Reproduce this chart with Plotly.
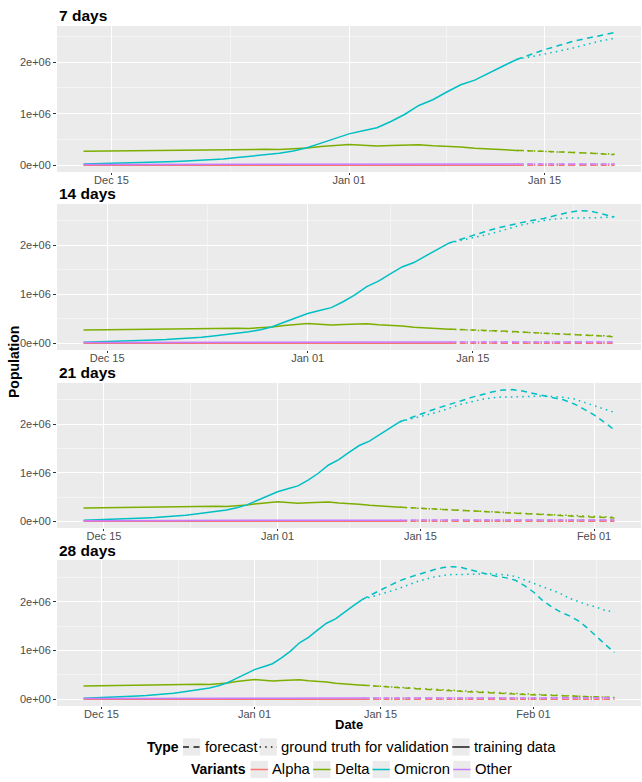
import pandas as pd
import plotly.graph_objects as go

# ---- data (values in millions of people) ----
train_start = "2021-12-13"
train_end = "2022-01-13"
horizons = [7, 14, 21, 28]
panel_titles = ["7 days", "14 days", "21 days", "28 days"]
variants = ["Alpha", "Delta", "Omicron", "Other"]
variant_colors = ["#F8766D", "#7CAE00", "#00BFC4", "#C77CFF"]

# training data, Dec 13 .. Jan 13
train_alpha = [0.004, 0.004, 0.004, 0.004, 0.004, 0.003, 0.003, 0.003, 0.003, 0.003,
               0.003, 0.003, 0.003, 0.003, 0.003, 0.003, 0.003, 0.003, 0.003, 0.002,
               0.002, 0.002, 0.002, 0.002, 0.002, 0.002, 0.002, 0.002, 0.002, 0.002,
               0.002, 0.002]
train_delta = [0.275, 0.278, 0.282, 0.287, 0.292, 0.298, 0.300, 0.300, 0.302, 0.305,
               0.310, 0.315, 0.318, 0.310, 0.305, 0.315, 0.335, 0.365, 0.390, 0.405,
               0.390, 0.375, 0.385, 0.395, 0.400, 0.380, 0.370, 0.355, 0.330, 0.315,
               0.300, 0.290]
train_omicron = [0.025, 0.030, 0.038, 0.045, 0.052, 0.060, 0.068, 0.078, 0.090, 0.105,
                 0.125, 0.150, 0.175, 0.205, 0.235, 0.280, 0.340, 0.430, 0.520, 0.610,
                 0.670, 0.730, 0.850, 0.990, 1.160, 1.270, 1.420, 1.560, 1.650, 1.790,
                 1.920, 2.050]
train_other = [0.016, 0.016, 0.017, 0.017, 0.017, 0.018, 0.018, 0.018, 0.019, 0.019,
               0.019, 0.020, 0.020, 0.020, 0.021, 0.021, 0.021, 0.022, 0.022, 0.022,
               0.023, 0.023, 0.023, 0.024, 0.024, 0.024, 0.025, 0.025, 0.025, 0.025,
               0.026, 0.026]

# ground truth for validation, Jan 13 .. Feb 10
truth_alpha = [0.002, 0.002, 0.002, 0.002, 0.002, 0.002, 0.002, 0.002, 0.002, 0.002,
               0.002, 0.002, 0.002, 0.002, 0.002, 0.002, 0.002, 0.002, 0.002, 0.002,
               0.002, 0.002, 0.002, 0.002, 0.002, 0.002, 0.002, 0.002, 0.002]
truth_delta = [0.290, 0.281, 0.270, 0.259, 0.250, 0.240, 0.229, 0.218, 0.207, 0.197,
               0.186, 0.176, 0.166, 0.156, 0.146, 0.137, 0.128, 0.120, 0.111, 0.103,
               0.095, 0.087, 0.079, 0.072, 0.064, 0.057, 0.049, 0.042, 0.036]
truth_omicron = [2.05, 2.10, 2.15, 2.21, 2.27, 2.34, 2.41, 2.46, 2.51, 2.54,
                 2.56, 2.56, 2.56, 2.57, 2.58, 2.57, 2.55, 2.52, 2.45, 2.37,
                 2.30, 2.24, 2.17, 2.07, 2.00, 1.94, 1.89, 1.82, 1.79]
truth_other = [0.026, 0.026, 0.027, 0.027, 0.027, 0.028, 0.028, 0.028, 0.028, 0.029,
               0.029, 0.029, 0.029, 0.030, 0.030, 0.030, 0.030, 0.030, 0.031, 0.031,
               0.031, 0.031, 0.031, 0.031, 0.032, 0.032, 0.032, 0.032, 0.032]

# forecasts, Jan 13 .. Jan 13 + horizon
fc_alpha = [0.002, 0.003, 0.003, 0.003, 0.003, 0.003, 0.003, 0.003, 0.003, 0.003,
            0.003, 0.003, 0.003, 0.003, 0.003, 0.003, 0.003, 0.003, 0.003, 0.003,
            0.003, 0.003, 0.003, 0.003, 0.003, 0.003, 0.003, 0.003, 0.003]
fc_other = [0.026, 0.027, 0.027, 0.028, 0.028, 0.028, 0.029, 0.029, 0.029, 0.029,
            0.030, 0.030, 0.030, 0.030, 0.030, 0.030, 0.031, 0.031, 0.031, 0.031,
            0.031, 0.031, 0.031, 0.031, 0.031, 0.031, 0.031, 0.031, 0.031]
fc_delta_7 = [0.290, 0.283, 0.272, 0.262, 0.251, 0.238, 0.224, 0.208]
fc_delta_14 = [0.290, 0.284, 0.276, 0.266, 0.256, 0.245, 0.234, 0.222, 0.210, 0.198,
               0.186, 0.172, 0.160, 0.147, 0.135]
fc_delta_21 = [0.290, 0.282, 0.272, 0.262, 0.250, 0.238, 0.226, 0.214, 0.202, 0.190,
               0.178, 0.167, 0.156, 0.145, 0.135, 0.125, 0.115, 0.106, 0.097, 0.088,
               0.079, 0.070]
fc_delta_28 = [0.290, 0.280, 0.268, 0.256, 0.243, 0.230, 0.217, 0.205, 0.193, 0.182,
               0.171, 0.160, 0.150, 0.141, 0.132, 0.124, 0.116, 0.108, 0.100, 0.093,
               0.086, 0.079, 0.072, 0.066, 0.060, 0.054, 0.048, 0.043, 0.038]
fc_omicron_7 = [2.05, 2.15, 2.24, 2.32, 2.40, 2.46, 2.52, 2.57]
fc_omicron_14 = [2.05, 2.13, 2.20, 2.28, 2.35, 2.41, 2.46, 2.51, 2.55, 2.61,
                 2.67, 2.71, 2.70, 2.64, 2.58]
fc_omicron_21 = [2.05, 2.13, 2.21, 2.28, 2.35, 2.41, 2.48, 2.55, 2.61, 2.66,
                 2.70, 2.71, 2.68, 2.63, 2.58, 2.54, 2.50, 2.42, 2.31, 2.19,
                 2.04, 1.88]
fc_omicron_28 = [2.05, 2.15, 2.24, 2.33, 2.42, 2.49, 2.55, 2.61, 2.66, 2.70,
                 2.72, 2.70, 2.65, 2.60, 2.56, 2.52, 2.49, 2.44, 2.33, 2.20,
                 2.03, 1.90, 1.79, 1.71, 1.61, 1.46, 1.28, 1.12, 0.96]

x_tick_vals = ["2021-12-15", "2022-01-01", "2022-01-15", "2022-02-01"]
x_tick_text = ["Dec 15", "Jan 01", "Jan 15", "Feb 01"]
x_minor_vals = ["2021-12-23 12:00", "2022-01-08", "2022-01-23 12:00", "2022-02-08"]
y_tick_vals = [0, 1e6, 2e6]
y_tick_text = ["0e+00", "1e+06", "2e+06"]
y_minor_vals = [0.5e6, 1.5e6, 2.5e6]

type_keys = ["forecast", "truth", "train"]
type_labels = ["forecast", "ground truth for validation", "training data"]

# ---- styling ----
FONT = "Liberation Sans, Arial, Helvetica, sans-serif"
DASH = {"forecast": "6px,4.5px", "truth": "1.5px,4.2px", "train": "solid"}
LW = 1.5
W, H = 642, 782
ML, MR, MT, MB = 57, 1, 26, 76
PLOT_W = W - ML - MR
PLOT_H = H - MT - MB
# panel bands in pixels from the top of the page
panel_px = [(26, 172), (204, 350), (383, 528), (560, 706)]
title_px = [15, 193, 372, 550]


def py(px):
    """pixel row -> paper y"""
    return (H - MB - px) / PLOT_H


def pxx(px):
    """pixel column -> paper x"""
    return (px - ML) / PLOT_W


train_dates = pd.date_range(train_start, train_end)
train = dict(zip(variants, [train_alpha, train_delta, train_omicron, train_other]))
truth = dict(zip(variants, [truth_alpha, truth_delta, truth_omicron, truth_other]))
fc_delta = [fc_delta_7, fc_delta_14, fc_delta_21, fc_delta_28]
fc_omicron = [fc_omicron_7, fc_omicron_14, fc_omicron_21, fc_omicron_28]

fig = go.Figure()
annotations = []
shapes = []

for i, h in enumerate(horizons):
    ax = "" if i == 0 else str(i + 1)
    xa, ya = "x" + ax, "y" + ax
    fut_dates = pd.date_range(train_end, periods=h + 1)
    forecast = {
        "Alpha": fc_alpha[: h + 1],
        "Delta": fc_delta[i],
        "Omicron": fc_omicron[i],
        "Other": fc_other[: h + 1],
    }
    ymax = 0.0
    for v, col in zip(variants, variant_colors):
        tr = [t * 1e6 for t in train[v]]
        gt = [t * 1e6 for t in truth[v][: h + 1]]
        fc = [t * 1e6 for t in forecast[v]]
        ymax = max(ymax, max(tr), max(gt), max(fc))
        for xs, ys, d in ((train_dates, tr, "train"), (fut_dates, gt, "truth"),
                          (fut_dates, fc, "forecast")):
            fig.add_trace(go.Scatter(
                x=xs, y=ys, mode="lines", xaxis=xa, yaxis=ya, showlegend=False,
                line=dict(color=col, width=LW, dash=DASH[d]), hoverinfo="skip"))

    # ggplot-style 5% expansion of both scales
    x0, x1 = pd.Timestamp(train_start), fut_dates[-1]
    pad = (x1 - x0) * 0.05
    ypad = ymax * 0.05
    top, bot = panel_px[i]
    axis_common = dict(
        showline=False, ticks="outside", tickwidth=1, tickcolor="#333333",
        tickfont=dict(family=FONT, size=11, color="#4D4D4D"),
        gridcolor="#FFFFFF", gridwidth=1, zeroline=False,
    )
    fig.layout["xaxis" + ax] = dict(
        axis_common, anchor=ya, domain=[0, 1], type="date",
        range=[x0 - pad, x1 + pad], ticklen=2, ticklabelstandoff=-4,
        tickmode="array", tickvals=x_tick_vals, ticktext=x_tick_text,
        minor=dict(tickvals=x_minor_vals, showgrid=True, gridcolor="#F4F4F4",
                   gridwidth=0.6, ticks=""),
    )
    fig.layout["yaxis" + ax] = dict(
        axis_common, anchor=xa, domain=[py(bot), py(top)],
        range=[-ypad, ymax + ypad], ticklen=3,
        tickmode="array", tickvals=y_tick_vals, ticktext=y_tick_text,
        minor=dict(tickvals=y_minor_vals, showgrid=True, gridcolor="#F4F4F4",
                   gridwidth=0.6, ticks=""),
    )
    annotations.append(dict(
        text="<b>%s</b>" % panel_titles[i], xref="paper", yref="paper",
        x=0, y=py(title_px[i]), xanchor="left", yanchor="middle", showarrow=False,
        font=dict(family=FONT, size=15.5, color="#000000")))

annotations.append(dict(
    text="<b>Population</b>", xref="paper", yref="paper", x=pxx(14),
    y=py(362), textangle=-90, showarrow=False, xanchor="center", yanchor="middle",
    font=dict(family=FONT, size=14, color="#000000")))
annotations.append(dict(
    text="<b>Date</b>", xref="paper", yref="paper", x=0.5, y=py(725),
    showarrow=False, xanchor="center", yanchor="middle",
    font=dict(family=FONT, size=13, color="#000000")))

# ---- legends (ggplot-style keys: grey square with a line across it) ----
KEY = 17.3
LEG_FONT = dict(family=FONT, size=14.8, color="#000000")
LEG_TITLE_FONT = dict(family=FONT, size=14, color="#000000")


def legend_row(y_px, title, title_right, entries):
    """entries: (key_left_px, label, colour, dash)"""
    annotations.append(dict(
        text="<b>%s</b>" % title, xref="paper", yref="paper", x=pxx(title_right),
        y=py(y_px), xanchor="right", yanchor="middle", showarrow=False,
        borderpad=0, font=LEG_TITLE_FONT))
    for left, label, col, dash in entries:
        shapes.append(dict(
            type="rect", xref="paper", yref="paper", layer="above",
            x0=pxx(left), x1=pxx(left + KEY),
            y0=py(y_px + KEY / 2), y1=py(y_px - KEY / 2),
            fillcolor="#EBEBEB", line=dict(width=0)))
        shapes.append(dict(
            type="line", xref="paper", yref="paper", layer="above",
            x0=pxx(left), x1=pxx(left + KEY), y0=py(y_px), y1=py(y_px),
            line=dict(color=col, width=LW, dash=dash)))
        annotations.append(dict(
            text=label, xref="paper", yref="paper", x=pxx(left + KEY + 3.4),
            y=py(y_px), xanchor="left", yanchor="middle", showarrow=False,
            borderpad=0, font=LEG_FONT))


type_key_left = [183.0, 259.5, 452.3]
variant_key_left = [250.6, 313.2, 372.5, 453.2]
legend_row(747, "Type", 179.7,
           [(l, lab, "#1A1A1A", DASH[k])
            for l, lab, k in zip(type_key_left, type_labels, type_keys)])
legend_row(769.5, "Variants", 247.2,
           [(l, v, c, "solid")
            for l, v, c in zip(variant_key_left, variants, variant_colors)])

fig.update_layout(
    width=W, height=H,
    margin=dict(l=ML, r=MR, t=MT, b=MB),
    paper_bgcolor="#FFFFFF", plot_bgcolor="#EBEBEB",
    font=dict(family=FONT),
    showlegend=False,
    annotations=annotations,
    shapes=shapes,
)

fig.write_html("out.html")
